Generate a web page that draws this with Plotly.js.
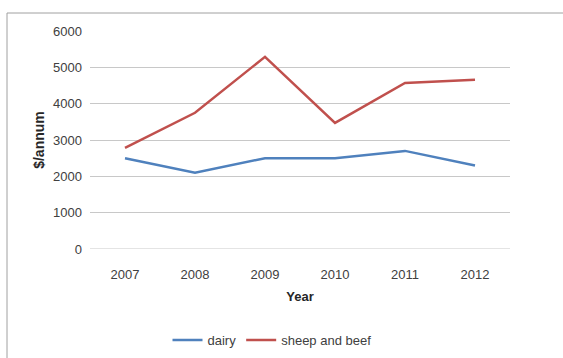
<!DOCTYPE html>
<html>
<head>
<meta charset="utf-8">
<script src="https://cdn.plot.ly/plotly-3.0.1.min.js"></script>
<style>html,body{margin:0;padding:0;background:#fff;}#chart{width:563px;height:358px;}</style>
</head>
<body>
<div id="chart"></div>
<script>
var years = ['2007', '2008', '2009', '2010', '2011', '2012'];
var dairy = [2500, 2100, 2500, 2500, 2700, 2300];
var sheepBeef = [2780, 3750, 5290, 3470, 4570, 4660];
var yTicks = [0, 1000, 2000, 3000, 4000, 5000, 6000];

var W = 563, H = 358;
var L = 90, R = 510, T = 31, B = 249;
function px(x) { return (x - L) / (R - L); }
function py(y) { return (B - y) / (B - T); }

var traces = [
  {x: years, y: dairy, name: 'dairy', type: 'scatter', mode: 'lines',
   line: {color: '#4F81BD', width: 2.5}},
  {x: years, y: sheepBeef, name: 'sheep and beef', type: 'scatter', mode: 'lines',
   line: {color: '#C0504D', width: 2.5}}
];

var layout = {
  width: W, height: H,
  margin: {l: L, r: W - R, t: T, b: H - B, autoexpand: false},
  paper_bgcolor: '#fff', plot_bgcolor: '#fff',
  font: {family: 'Liberation Sans, Arial, sans-serif', size: 13, color: '#404040'},
  showlegend: true,
  legend: {orientation: 'h', xref: 'container', x: 272 / W, xanchor: 'center',
           yref: 'container', y: (H - 340) / H, yanchor: 'middle',
           font: {size: 13, color: '#404040'}, itemwidth: 30, tracegroupgap: 0},
  xaxis: {type: 'category', range: [-0.5, 5.5], showgrid: false, zeroline: false,
          showline: false, ticks: '', ticklabelstandoff: 16,
          tickfont: {size: 13, color: '#404040'},
          title: {text: '<b>Year</b>', font: {size: 13, color: '#262626'}, standoff: 10}},
  yaxis: {range: [0, 6000], tickvals: yTicks, ticktext: yTicks.map(String),
          showgrid: true, gridcolor: '#c8c8c8', gridwidth: 1, zeroline: false,
          showline: false, ticks: '', ticklabelstandoff: 7,
          tickfont: {size: 13, color: '#404040'},
          title: {text: '<b>$/annum</b>', font: {size: 14, color: '#262626'}, standoff: 5}},
  shapes: [
    {type: 'line', xref: 'paper', yref: 'paper', x0: px(7), x1: px(7), y0: py(13), y1: py(360),
     line: {color: '#a0a0a0', width: 1}},
    {type: 'line', xref: 'paper', yref: 'paper', x0: px(7), x1: px(565), y0: py(13), y1: py(13),
     line: {color: '#a0a0a0', width: 1}},
    {type: 'line', xref: 'paper', yref: 'y', x0: 0, x1: 1, y0: 0, y1: 0,
     line: {color: '#c8c8c8', width: 1}}
  ]
};

Plotly.newPlot('chart', traces, layout, {displayModeBar: false, staticPlot: true});
</script>
</body>
</html>
